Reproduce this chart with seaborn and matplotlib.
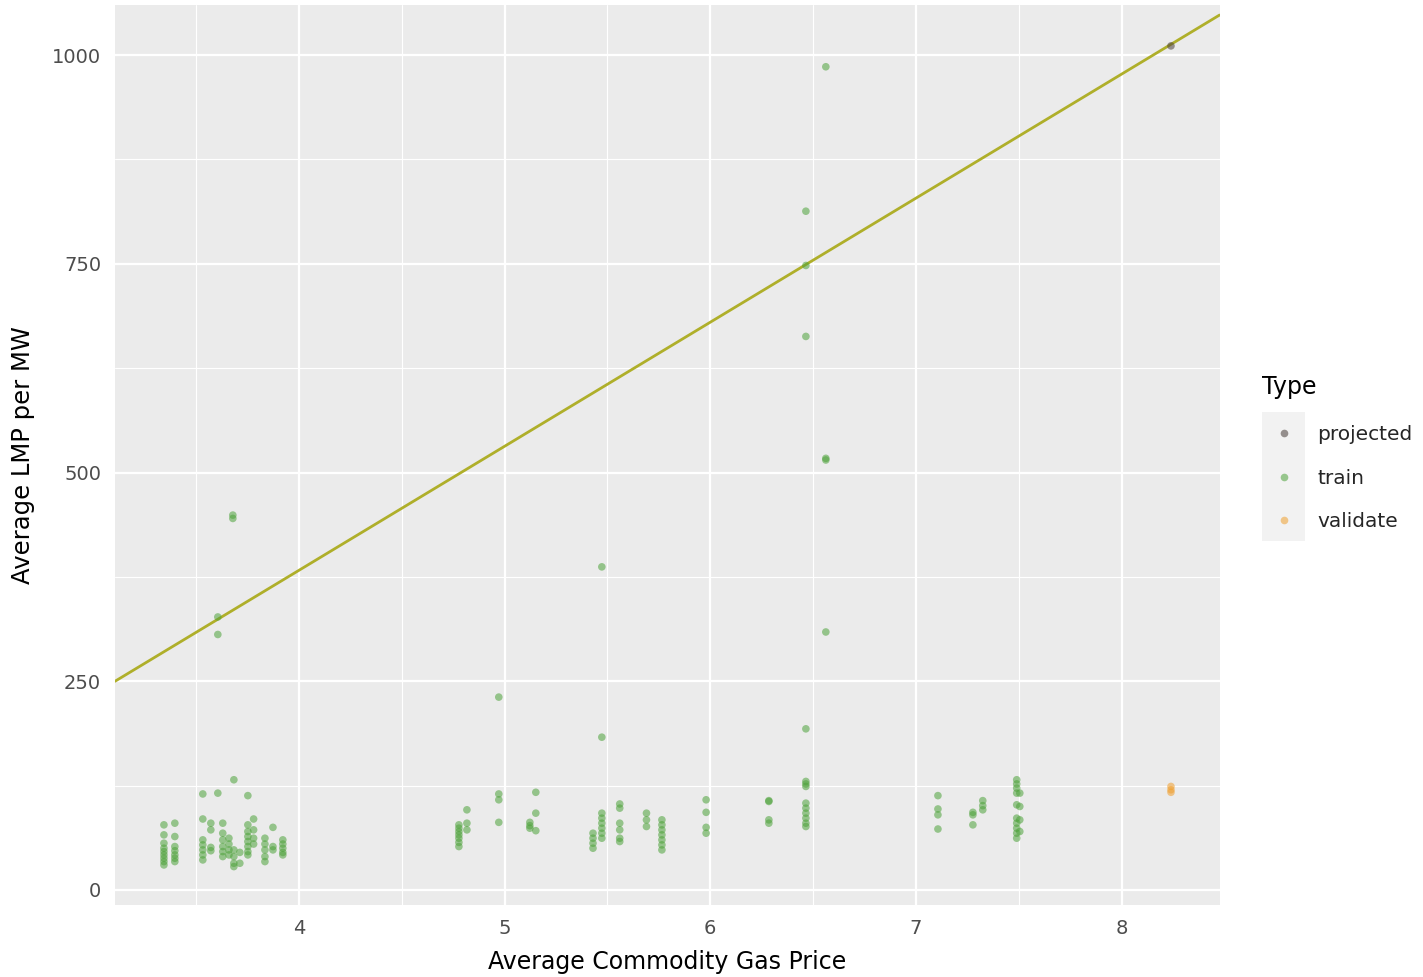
import numpy as np
import pandas as pd
import matplotlib
matplotlib.use("Agg")
import matplotlib.pyplot as plt
import seaborn as sns
from matplotlib.lines import Line2D
from matplotlib.patches import Rectangle

# ---------------- data ----------------
train_x = [3.344, 3.397, 3.533, 3.572, 3.606, 3.63, 3.66, 3.679, 3.684, 3.713,
           3.752, 3.78, 3.835, 3.874, 3.922, 4.778, 4.817, 4.972, 5.123, 5.152,
           5.43, 5.473, 5.56, 5.69, 5.765, 5.98, 6.285, 6.465, 6.562, 7.107,
           7.277, 7.325, 7.49, 7.505]
train_y = [
    [78, 66, 56, 50, 46, 42, 38, 34, 30],
    [80, 64, 52, 47, 42, 38, 34],
    [115, 85, 60, 54, 48, 42, 36],
    [80, 72, 51, 47],
    [327, 306, 116],
    [80, 68, 60, 52, 46, 40],
    [62, 55, 48, 42],
    [449, 445],
    [132, 48, 40, 32, 28],
    [45, 32],
    [113, 78, 70, 64, 58, 52, 46, 42],
    [85, 72, 62, 55],
    [62, 55, 48, 40, 34],
    [75, 52, 48],
    [60, 55, 50, 45, 42],
    [78, 74, 70, 66, 62, 57, 52],
    [96, 80, 72],
    [231, 115, 108, 81],
    [81, 77, 74],
    [117, 92, 71],
    [68, 62, 56, 50],
    [387, 183, 92, 86, 80, 74, 68, 62],
    [103, 98, 80, 72, 62, 58],
    [92, 84, 76],
    [84, 78, 72, 66, 60, 54, 48],
    [108, 93, 75, 68],
    [107, 106, 84, 80],
    [813, 748, 663, 193, 130, 127, 124, 104, 98, 92, 86, 80, 76],
    [986, 517, 515, 309],
    [113, 97, 90, 73],
    [93, 90, 78],
    [107, 101, 96],
    [132, 127, 122, 116, 102, 86, 80, 74, 68, 62],
    [116, 100, 84, 70],
]
validate_x = [8.24, 8.24, 8.24]
validate_y = [124, 120, 117]
projected_x = [8.24]
projected_y = [1011]

line_intercept = -211.6
line_slope = 148.6

types = ["projected", "train", "validate"]
legend_title = "Type"
type_colors = {"projected": "#4A3F3A", "train": "#4DA23A", "validate": "#F0A030"}
line_color = "#AFAF2A"

x_ticks = [4, 5, 6, 7, 8]
y_ticks = [0, 250, 500, 750, 1000]

rows = []
for x, ys in zip(train_x, train_y):
    for y in ys:
        rows.append(("train", x, y))
for x, y in zip(validate_x, validate_y):
    rows.append(("validate", x, y))
for x, y in zip(projected_x, projected_y):
    rows.append(("projected", x, y))
df = pd.DataFrame(rows, columns=["Type", "gas", "lmp"])

# ---------------- plot ----------------
sns.set_theme(style="darkgrid")
plt.rcParams["font.family"] = ["DejaVu Sans"]

fig = plt.figure(figsize=(14.23, 9.77), dpi=100)
ax = fig.add_axes([0.0808, 0.0737, 0.857 - 0.0808, 0.9949 - 0.0737])
ax.set_facecolor("#EBEBEB")

ax.axline((0, line_intercept), slope=line_slope, color=line_color, lw=2, zorder=2)

sns.scatterplot(data=df, x="gas", y="lmp", hue="Type", hue_order=types,
                palette=type_colors, s=30, alpha=0.55, edgecolor="none",
                legend=False, ax=ax, zorder=3)

ax.set_xlim(3.106, 8.476)
ax.set_ylim(-18, 1060)
ax.set_xticks(x_ticks)
ax.set_yticks(y_ticks)
ax.set_xticks([3.5, 4.5, 5.5, 6.5, 7.5], minor=True)
ax.set_yticks([125, 375, 625, 875], minor=True)
ax.grid(which="major", color="white", lw=1.6)
ax.grid(which="minor", color="white", lw=0.8)
for s in ax.spines.values():
    s.set_visible(False)
ax.tick_params(axis="both", which="major", length=5, width=1.1, color="#333333",
               labelsize=14, labelcolor="#4D4D4D", pad=5)
ax.tick_params(axis="both", which="minor", length=0)
ax.set_xlabel("Average Commodity Gas Price", fontsize=17, color="black", labelpad=9)
ax.set_ylabel("Average LMP per MW", fontsize=17.5, color="black", labelpad=12)

# legend
handles = [Line2D([0], [0], marker="o", ls="", markersize=5.5, alpha=0.55,
                  markerfacecolor=type_colors[t], markeredgecolor="none") for t in types]
fig.add_artist(Rectangle((1262 / 1423, 1 - 541 / 977), 43 / 1423, 129 / 977,
                         transform=fig.transFigure, facecolor="#F2F2F2",
                         edgecolor="none", zorder=1))
fig.text(1262 / 1423, 1 - 387 / 977, legend_title, fontsize=17,
         ha="left", va="center", color="black")
leg = fig.legend(handles, types, loc="upper left",
                 bbox_to_anchor=(1250 / 1423, 1 - 407 / 977),
                 frameon=False, fontsize=14.5,
                 handlelength=1.6, handletextpad=0.85,
                 labelspacing=1.22)

fig.savefig("out.png", dpi=100)
